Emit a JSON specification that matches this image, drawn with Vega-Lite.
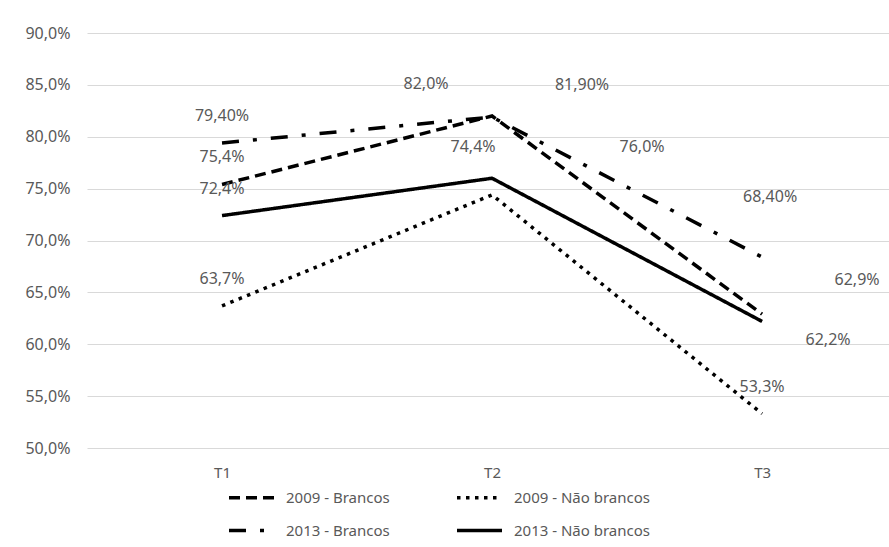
{
  "$schema": "https://vega.github.io/schema/vega-lite/v6.json",
  "autosize": {"type": "none"},
  "padding": {"left": 87, "top": 33, "right": 0, "bottom": 99},
  "width": 802,
  "height": 415,
  "background": "white",
  "config": {
    "view": {"stroke": null},
    "font": "Noto Sans"
  },
  "data": {
    "values": [
      {"series": "2009 - Brancos", "t": 1, "value": 75.4, "label": "75,4%"},
      {"series": "2009 - Brancos", "t": 2, "value": 82.0, "label": "82,0%"},
      {"series": "2009 - Brancos", "t": 3, "value": 62.9, "label": "62,9%"},
      {"series": "2009 - Não brancos", "t": 1, "value": 63.7, "label": "63,7%"},
      {"series": "2009 - Não brancos", "t": 2, "value": 74.4, "label": "74,4%"},
      {"series": "2009 - Não brancos", "t": 3, "value": 53.3, "label": "53,3%"},
      {"series": "2013 - Brancos", "t": 1, "value": 79.4, "label": "79,40%"},
      {"series": "2013 - Brancos", "t": 2, "value": 81.9, "label": "81,90%"},
      {"series": "2013 - Brancos", "t": 3, "value": 68.4, "label": "68,40%"},
      {"series": "2013 - Não brancos", "t": 1, "value": 72.4, "label": "72,4%"},
      {"series": "2013 - Não brancos", "t": 2, "value": 76.0, "label": "76,0%"},
      {"series": "2013 - Não brancos", "t": 3, "value": 62.2, "label": "62,2%"}
    ]
  },
  "encoding": {
    "x": {
      "field": "t", "type": "quantitative",
      "scale": {"domain": [0.5, 3.47], "nice": false, "zero": false},
      "axis": {
        "title": null, "values": [1, 2, 3], "labelExpr": "'T' + datum.value",
        "grid": false, "ticks": false, "domain": false,
        "labelPadding": 17, "labelFontSize": 15, "labelColor": "#595959", "labelFont": "Noto Sans"
      }
    },
    "y": {
      "field": "value", "type": "quantitative",
      "scale": {"domain": [50, 90], "nice": false, "zero": false},
      "axis": {
        "title": null, "values": [50, 55, 60, 65, 70, 75, 80, 85, 90],
        "labelExpr": "replace(format(datum.value, '.1f'), '.', ',') + '%'",
        "grid": true, "gridColor": "#d9d9d9", "gridWidth": 1.2,
        "ticks": false, "domain": false,
        "labelPadding": 17, "labelFontSize": 16, "labelColor": "#595959", "labelFont": "Noto Sans"
      }
    }
  },
  "layer": [
    {
      "mark": {"type": "line", "color": "black", "strokeWidth": 3.5, "strokeCap": "butt"},
      "encoding": {
        "strokeDash": {
          "field": "series", "type": "nominal",
          "scale": {
            "domain": ["2009 - Brancos", "2009 - Não brancos", "2013 - Brancos", "2013 - Não brancos"],
            "range": [[11, 6], [3.5, 5.5], [17, 14, 4, 14], [1, 0]]
          },
          "legend": {
            "title": null, "orient": "none", "legendX": 140, "legendY": 440,
            "direction": "horizontal", "columns": 2, "columnPadding": 60, "rowPadding": -10,
            "symbolType": "stroke", "symbolSize": 2025, "symbolStrokeWidth": 3.5,
            "symbolStrokeColor": "black", "labelFontSize": 15, "labelColor": "#595959",
            "labelFont": "Noto Sans", "labelOffset": 10, "padding": 0, "labelLimit": 300
          }
        }
      }
    },
    {
      "transform": [{"filter": "datum.t == 1 || (datum.t == 3 && datum.series == '2009 - Não brancos')"}],
      "mark": {"type": "text", "dy": -27, "fontSize": 16, "color": "#595959", "align": "center", "baseline": "middle"},
      "encoding": {"text": {"field": "label"}}
    },
    {
      "transform": [{"filter": "datum.t == 2 && datum.series == '2009 - Brancos'"}],
      "mark": {"type": "text", "dx": -66, "dy": -32, "fontSize": 16, "color": "#595959", "align": "center", "baseline": "middle"},
      "encoding": {"text": {"field": "label"}}
    },
    {
      "transform": [{"filter": "datum.t == 2 && datum.series == '2013 - Brancos'"}],
      "mark": {"type": "text", "dx": 90, "dy": -32, "fontSize": 16, "color": "#595959", "align": "center", "baseline": "middle"},
      "encoding": {"text": {"field": "label"}}
    },
    {
      "transform": [{"filter": "datum.t == 2 && datum.series == '2013 - Não brancos'"}],
      "mark": {"type": "text", "dx": 150, "dy": -31, "fontSize": 16, "color": "#595959", "align": "center", "baseline": "middle"},
      "encoding": {"text": {"field": "label"}}
    },
    {
      "transform": [{"filter": "datum.t == 2 && datum.series == '2009 - Não brancos'"}],
      "mark": {"type": "text", "dx": -19, "dy": -48, "fontSize": 16, "color": "#595959", "align": "center", "baseline": "middle"},
      "encoding": {"text": {"field": "label"}}
    },
    {
      "transform": [{"filter": "datum.t == 3 && datum.series == '2013 - Brancos'"}],
      "mark": {"type": "text", "dx": 8, "dy": -60, "fontSize": 16, "color": "#595959", "align": "center", "baseline": "middle"},
      "encoding": {"text": {"field": "label"}}
    },
    {
      "transform": [{"filter": "datum.t == 3 && datum.series == '2009 - Brancos'"}],
      "mark": {"type": "text", "dx": 95, "dy": -34, "fontSize": 16, "color": "#595959", "align": "center", "baseline": "middle"},
      "encoding": {"text": {"field": "label"}}
    },
    {
      "transform": [{"filter": "datum.t == 3 && datum.series == '2013 - Não brancos'"}],
      "mark": {"type": "text", "dx": 66, "dy": 19, "fontSize": 16, "color": "#595959", "align": "center", "baseline": "middle"},
      "encoding": {"text": {"field": "label"}}
    }
  ]
}
